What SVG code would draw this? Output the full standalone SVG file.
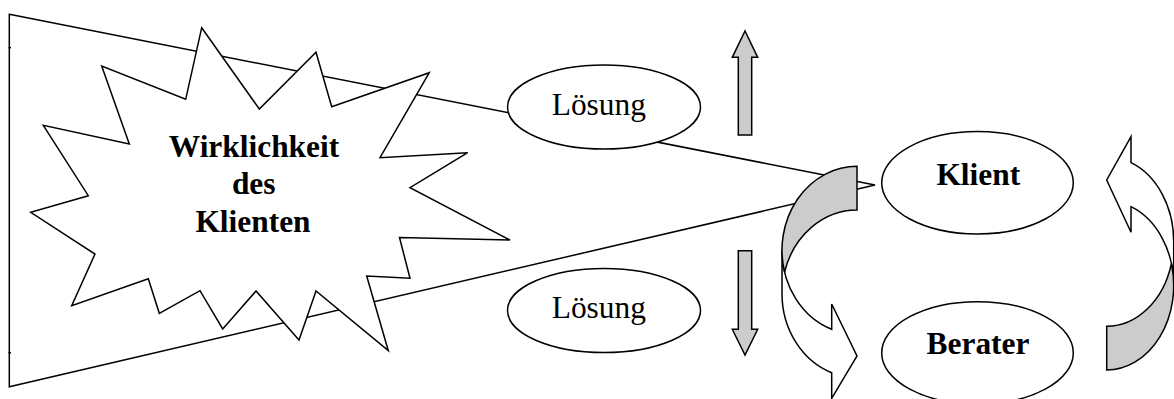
<svg xmlns="http://www.w3.org/2000/svg" width="1174" height="399" viewBox="0 0 1174 399">
  <style>
    .ln { fill: none; stroke: #000; stroke-width: 1.5; stroke-linejoin: miter; }
    .wh { fill: #fff; stroke: #000; stroke-width: 1.5; stroke-linejoin: miter; }
    .gr { fill: #cccccc; stroke: #000; stroke-width: 1.5; stroke-linejoin: miter; }
    .t  { font-family: "Liberation Serif", "Times New Roman", serif; font-size: 31.4px; fill: #000; text-anchor: middle; }
    .b  { font-weight: bold; }
  </style>

  <!-- funnel from the client's reality towards the client -->
  <g id="cone">
    <polygon class="wh" points="9.3,14.3 875,185 9.3,386.7"/>
    <line class="ln" x1="8.5" y1="47.7" x2="11" y2="47.7"/>
    <line class="ln" x1="8.5" y1="352.7" x2="11" y2="352.7"/>
  </g>

  <!-- burst shape -->
  <g id="wirklichkeit">
    <polygon class="wh" points="201.7,27.7 259.3,109 316,52.3 331.7,106.7 429.3,72.7 380,157.7 467.7,152.7 410,187.7 510,240 399.5,237.5 410,278.3 366.7,276 388.3,350.7 316,291 299,340 256,291 222.7,329 200,290.7 159.3,313.3 148.3,278.7 71.7,305.7 95,254 30.7,212.3 88.3,195.7 43.3,125.3 129.3,144 101.7,66 185.7,99.3"/>
    <text class="t b" x="254" y="157.3">Wirklichkeit</text>
    <text class="t b" x="253.7" y="194.3">des</text>
    <text class="t b" x="253" y="231.7">Klienten</text>
  </g>

  <g id="loesung-oben">
    <ellipse class="wh" cx="604" cy="107" rx="96.5" ry="42"/>
    <text class="t" x="598.8" y="115">Lösung</text>
  </g>

  <g id="loesung-unten">
    <ellipse class="wh" cx="604" cy="310.5" rx="96.5" ry="42"/>
    <text class="t" x="598.8" y="318.3">Lösung</text>
  </g>

  <!-- block arrows up / down -->
  <g id="pfeil-hoch">
    <polygon class="gr" points="745,31 757.7,57.3 751.7,57.3 751.7,135 738.3,135 738.3,57.3 732.3,57.3"/>
  </g>
  <g id="pfeil-runter">
    <polygon class="gr" points="738.3,250.7 751.7,250.7 751.7,329.3 757.7,329.3 745,355 732.3,329.3 738.3,329.3"/>
  </g>

  <g id="klient">
    <ellipse class="wh" cx="977.5" cy="182.8" rx="95.8" ry="51.2"/>
    <text class="t b" x="978.3" y="185">Klient</text>
  </g>

  <g id="berater">
    <ellipse class="wh" cx="977.5" cy="352.9" rx="95.8" ry="51.2"/>
    <text class="t b" x="978" y="354">Berater</text>
  </g>

  <!-- curved arrows forming the cycle -->
  <g id="kreislauf">
    <g id="bogen-links">
      <path class="wh" d="M782,250.3 A75,83.96 0 0 0 831.7,329.3 L831.7,304 L857,356 L831.7,398.3 L831.7,372.7 A75,83.96 0 0 1 782,294 Z"/>
      <path class="gr" d="M857,166.3 A75,83.96 0 0 0 784.6,272.2 A75,83.96 0 0 1 857,210 Z"/>
    </g>
    <g id="bogen-rechts">
      <path class="wh" d="M1173.7,285.5 A67,84.5 0 0 0 1131,206.7 L1131,232.3 L1106.7,180 L1131,136.7 L1131,162.7 A67,84.5 0 0 1 1173.7,241.8 Z"/>
      <path class="gr" d="M1106.7,370 A67,84.5 0 0 0 1171.4,263.65 A67,84.5 0 0 1 1106.7,326.3 Z"/>
    </g>
  </g>
</svg>
